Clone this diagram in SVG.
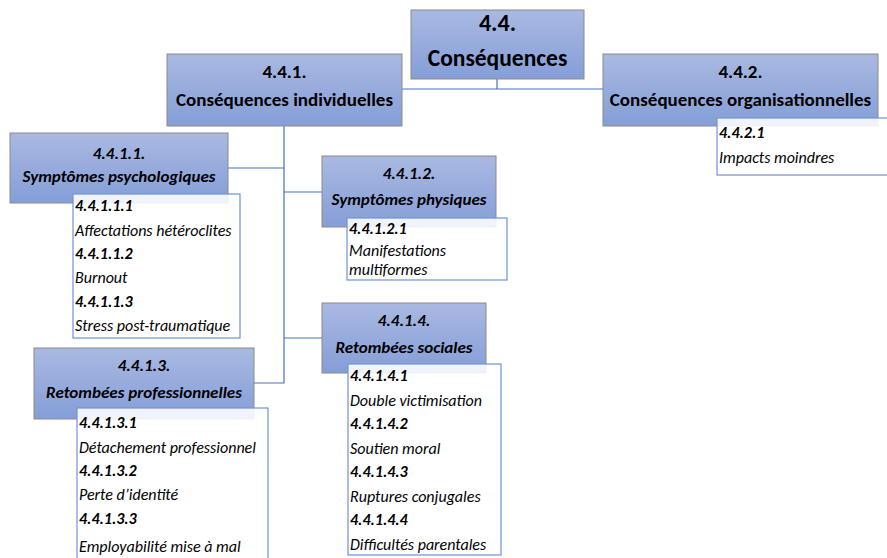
<svg xmlns="http://www.w3.org/2000/svg" width="887" height="558" viewBox="0 0 887 558">
<defs>
<linearGradient id="g" x1="0" y1="0" x2="0" y2="1">
<stop offset="0" stop-color="#a9b9e1"/>
<stop offset="1" stop-color="#859ed8"/>
</linearGradient>
</defs>
<style>
.box{fill:url(#g);stroke:#8a8a8a;stroke-width:1}
.sub{fill:#ffffff;fill-opacity:0.88;stroke:#6f93d6;stroke-width:1.2}
.t{font-family:Carlito,Calibri,"Liberation Sans",sans-serif;font-weight:bold;fill:#000;text-anchor:middle}
.ti{font-family:Carlito,Calibri,"Liberation Sans",sans-serif;font-weight:bold;font-style:italic;fill:#000;text-anchor:middle;font-size:17px}
.sb{font-family:Carlito,Calibri,"Liberation Sans",sans-serif;font-weight:bold;font-style:italic;fill:#000;font-size:16px}
.si{font-family:Carlito,Calibri,"Liberation Sans",sans-serif;font-style:italic;fill:#000;font-size:16px}
.c{fill:none;stroke:#4472c4;stroke-width:1.2}
</style>
<g id="connectors">
<path class="c" d="M497,79 V89"/>
<path class="c" d="M402,89 H603"/>
<path class="c" d="M284,126 V383 H254"/>
<path class="c" d="M228,168 H284"/>
<path class="c" d="M284,192 H322"/>
<path class="c" d="M284,338 H322"/>
</g>
<g id="n44">
<rect class="box" x="411" y="10" width="173" height="69"/>
<text class="t" x="497.5" y="31" font-size="24">4.4.</text>
<text class="t" x="497.5" y="66" font-size="23.5">Conséquences</text>
</g>
<g id="n441">
<rect class="box" x="167" y="54" width="235" height="72"/>
<text class="t" x="284.5" y="78" font-size="19">4.4.1.</text>
<text class="t" x="284.5" y="106" font-size="19">Conséquences individuelles</text>
</g>
<g id="n442">
<rect class="box" x="603" y="54" width="275" height="72"/>
<text class="t" x="740.5" y="78" font-size="19">4.4.2.</text>
<text class="t" x="740.5" y="106" font-size="19">Conséquences organisationnelles</text>
<rect class="sub" x="717" y="118" width="175" height="57"/>
<text class="sb" x="719" y="138">4.4.2.1</text>
<text class="si" x="719" y="163">Impacts moindres</text>
</g>
<g id="n4411">
<rect class="box" x="10" y="133" width="218" height="70"/>
<text class="ti" x="119" y="159">4.4.1.1.</text>
<text class="ti" x="119" y="182">Symptômes psychologiques</text>
<rect class="sub" x="73" y="194" width="167" height="144"/>
<text class="sb" x="75" y="211">4.4.1.1.1</text>
<text class="si" x="75" y="236">Affectations hétéroclites</text>
<text class="sb" x="75" y="259">4.4.1.1.2</text>
<text class="si" x="75" y="283">Burnout</text>
<text class="sb" x="75" y="307">4.4.1.1.3</text>
<text class="si" x="75" y="331">Stress post-traumatique</text>
</g>
<g id="n4412">
<rect class="box" x="322" y="156" width="174" height="71"/>
<text class="ti" x="409" y="179">4.4.1.2.</text>
<text class="ti" x="409" y="205">Symptômes physiques</text>
<rect class="sub" x="347" y="218" width="160" height="62"/>
<text class="sb" x="349" y="234">4.4.1.2.1</text>
<text class="si" x="349" y="256">Manifestations</text>
<text class="si" x="349" y="275">multiformes</text>
</g>
<g id="n4413">
<rect class="box" x="34" y="348" width="220" height="71"/>
<text class="ti" x="144" y="371">4.4.1.3.</text>
<text class="ti" x="144" y="398">Retombées professionnelles</text>
<rect class="sub" x="77" y="408" width="191" height="155"/>
<text class="sb" x="79" y="428">4.4.1.3.1</text>
<text class="si" x="79" y="453">Détachement professionnel</text>
<text class="sb" x="79" y="476">4.4.1.3.2</text>
<text class="si" x="79" y="500">Perte d’identité</text>
<text class="sb" x="79" y="524">4.4.1.3.3</text>
<text class="si" x="79" y="552">Employabilité mise à mal</text>
</g>
<g id="n4414">
<rect class="box" x="322" y="303" width="164" height="70"/>
<text class="ti" x="404" y="326">4.4.1.4.</text>
<text class="ti" x="404" y="353">Retombées sociales</text>
<rect class="sub" x="348" y="364" width="153" height="191"/>
<text class="sb" x="350" y="381">4.4.1.4.1</text>
<text class="si" x="350" y="406">Double victimisation</text>
<text class="sb" x="350" y="429">4.4.1.4.2</text>
<text class="si" x="350" y="454">Soutien moral</text>
<text class="sb" x="350" y="477">4.4.1.4.3</text>
<text class="si" x="350" y="502">Ruptures conjugales</text>
<text class="sb" x="350" y="525">4.4.1.4.4</text>
<text class="si" x="350" y="550">Difficultés parentales</text>
</g>
</svg>
